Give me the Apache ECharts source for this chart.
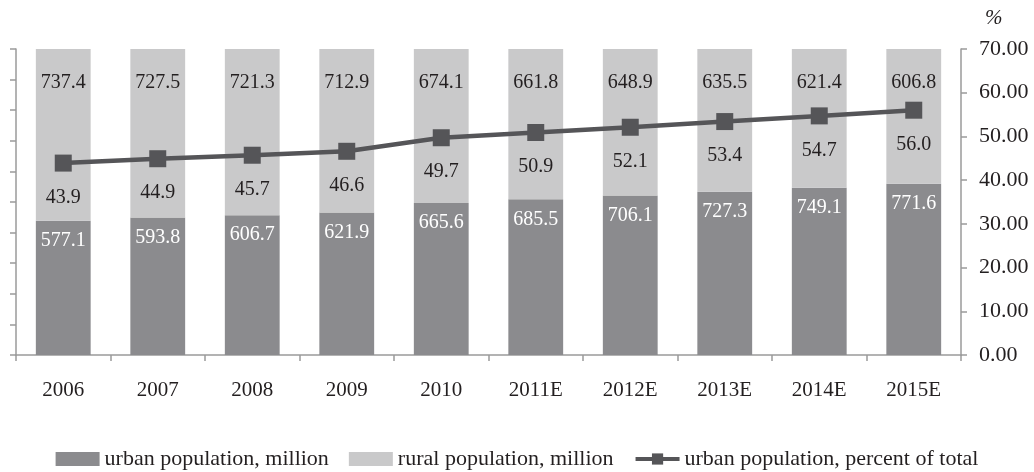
<!DOCTYPE html>
<html>
<head>
<meta charset="utf-8">
<script src="https://cdn.jsdelivr.net/npm/echarts@6/dist/echarts.min.js"></script>
<style>
  html, body { margin: 0; padding: 0; background: #ffffff; }
  #chart { width: 1034px; height: 472px; }
</style>
</head>
<body>
<div id="chart"></div>
<script>
// Population of urban and rural areas, 2006–2015E
const years = ['2006', '2007', '2008', '2009', '2010', '2011E', '2012E', '2013E', '2014E', '2015E'];
const urbanMillion = [577.1, 593.8, 606.7, 621.9, 665.6, 685.5, 706.1, 727.3, 749.1, 771.6];
const ruralMillion = [737.4, 727.5, 721.3, 712.9, 674.1, 661.8, 648.9, 635.5, 621.4, 606.8];
const urbanPercent = [43.9, 44.9, 45.7, 46.6, 49.7, 50.9, 52.1, 53.4, 54.7, 56.0];
const percentTicks = [0, 10, 20, 30, 40, 50, 60, 70];

// Bars are stacked to 100 %: each part is drawn as its share of the yearly total
const totals = years.map((_, i) => urbanMillion[i] + ruralMillion[i]);
const urbanShare = urbanMillion.map((v, i) => v / totals[i] * 100);
const ruralShare = ruralMillion.map((v, i) => v / totals[i] * 100);

const FONT = '"Liberation Serif", "DejaVu Serif", serif';
const AXIS_GRAY = '#9a9a9a';
const URBAN = '#8b8b8e';
const RURAL = '#c9c9ca';
const LINE = '#555558';

const chart = echarts.init(document.getElementById('chart'), null, { renderer: 'canvas' });

chart.setOption({
  animation: false,
  textStyle: { fontFamily: FONT, color: '#231f20' },
  grid: { left: 16, right: 73, top: 49, bottom: 117 },
  legend: {
    top: 443,
    left: 'center',
    itemWidth: 44,
    itemHeight: 14,
    itemGap: 20,
    textStyle: { fontFamily: FONT, fontSize: 22, color: '#231f20' },
    data: [
      { name: 'urban population, million', icon: 'rect', itemStyle: { color: URBAN } },
      { name: 'rural population, million', icon: 'rect', itemStyle: { color: RURAL } },
      {
        name: 'urban population, percent of total',
        lineStyle: { width: 4, color: LINE },
        itemStyle: { color: LINE }
      }
    ]
  },
  xAxis: {
    type: 'category',
    data: years,
    boundaryGap: true,
    axisLine: { lineStyle: { color: AXIS_GRAY, width: 1.5 } },
    axisTick: { show: true, alignWithLabel: false, length: 6, lineStyle: { color: AXIS_GRAY, width: 1.5 } },
    axisLabel: { fontFamily: FONT, fontSize: 21, color: '#231f20', margin: 25 }
  },
  yAxis: [
    {
      type: 'value',
      min: 0,
      max: 100,
      interval: 10,
      position: 'left',
      axisLine: { show: true, lineStyle: { color: AXIS_GRAY, width: 1.5 } },
      axisTick: { show: true, length: 6, lineStyle: { color: AXIS_GRAY, width: 1.5 } },
      axisLabel: { show: false },
      splitLine: { show: false }
    },
    {
      type: 'value',
      min: percentTicks[0],
      max: percentTicks[percentTicks.length - 1],
      interval: 10,
      position: 'right',
      name: '%',
      nameLocation: 'end',
      nameGap: 20,
      nameTextStyle: { fontFamily: FONT, fontSize: 21, fontStyle: 'italic', color: '#231f20', align: 'left', padding: [0, 0, 0, 24] },
      axisLine: { show: true, lineStyle: { color: AXIS_GRAY, width: 1.5 } },
      axisTick: { show: true, length: 6, lineStyle: { color: AXIS_GRAY, width: 1.5 } },
      axisLabel: { fontFamily: FONT, fontSize: 22, color: '#231f20', margin: 18, formatter: v => v.toFixed(2) },
      splitLine: { show: false }
    }
  ],
  series: [
    {
      name: 'urban population, million',
      type: 'bar',
      stack: 'pop',
      yAxisIndex: 0,
      barCategoryGap: '42%',
      data: urbanShare,
      itemStyle: { color: URBAN },
      label: {
        show: true,
        position: 'insideTop',
        distance: 10,
        fontFamily: FONT,
        fontSize: 20,
        color: '#ffffff',
        formatter: p => urbanMillion[p.dataIndex].toFixed(1)
      }
    },
    {
      name: 'rural population, million',
      type: 'bar',
      stack: 'pop',
      yAxisIndex: 0,
      barCategoryGap: '42%',
      data: ruralShare,
      itemStyle: { color: RURAL },
      label: {
        show: true,
        position: 'insideTop',
        distance: 24,
        fontFamily: FONT,
        fontSize: 20,
        color: '#231f20',
        formatter: p => ruralMillion[p.dataIndex].toFixed(1)
      }
    },
    {
      name: 'urban population, percent of total',
      type: 'line',
      yAxisIndex: 1,
      data: urbanPercent,
      symbol: 'rect',
      symbolSize: 17,
      lineStyle: { color: LINE, width: 4.5 },
      itemStyle: { color: LINE },
      label: {
        show: true,
        position: 'bottom',
        distance: 16,
        fontFamily: FONT,
        fontSize: 20,
        color: '#231f20',
        formatter: p => urbanPercent[p.dataIndex].toFixed(1)
      },
      z: 5
    }
  ]
});
</script>
</body>
</html>
